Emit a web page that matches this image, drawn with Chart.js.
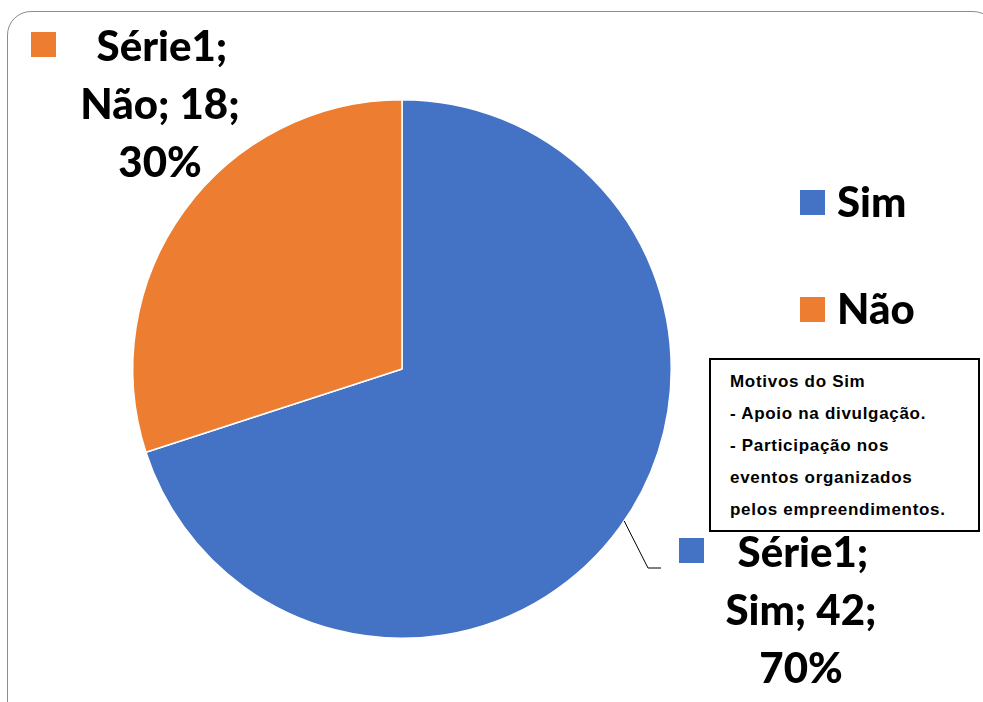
<!DOCTYPE html>
<html>
<head>
<meta charset="utf-8">
<script src="https://cdn.jsdelivr.net/npm/chart.js@4/dist/chart.umd.min.js"></script>
<style>
  html, body { margin: 0; padding: 0; background: #fff; }
  #wrap { position: relative; width: 983px; height: 702px; overflow: hidden; }
  #frame {
    position: absolute; left: 7px; top: 11px; width: 990px; height: 720px;
    border: 1.5px solid #8c8c8c; border-radius: 24px; box-sizing: border-box;
  }
  #note {
    position: absolute; left: 709px; top: 358px; width: 271px; height: 174px;
    border: 2px solid #000; box-sizing: border-box; background: #fff;
    font: bold 17px "Liberation Sans", Arial, sans-serif; color: #000;
    padding: 6px 0 0 19px; line-height: 32px; letter-spacing: 0.7px;
  }
  canvas { position: absolute; left: 0; top: 0; }
</style>
</head>
<body>
<div id="wrap">
  <div id="frame"></div>
  <canvas id="myChart" width="983" height="702"></canvas>
  <div id="note">Motivos do Sim<br>- Apoio na divulgação.<br>- Participação nos<br>eventos organizados<br>pelos empreendimentos.</div>
</div>
<script>
var categories = ['Sim', 'Não'];
var values = [42, 18];
var colors = ['#4472C4', '#ED7D31'];
var seriesName = 'Série1';

var labelFont = '900 42px Lato, "Open Sans", sans-serif';

function pct(i) {
  var total = values.reduce(function (a, b) { return a + b; }, 0);
  return Math.round(values[i] / total * 100) + '%';
}

// legend on the right + data labels with leader line
var extras = {
  id: 'extras',
  afterDraw: function (chart) {
    var c = chart.ctx;
    c.save();
    c.font = labelFont;
    c.textBaseline = 'middle';

    // legend
    var legY = [202, 309];
    categories.forEach(function (name, i) {
      c.fillStyle = colors[i];
      c.fillRect(800, legY[i] - 12, 25, 25);
      c.fillStyle = '#000';
      c.textAlign = 'left';
      c.fillText(name, 837, legY[i] + 1);
    });

    // data labels
    var spots = [
      { sq: [679, 538], cx: 801, y: 553 },
      { sq: [31, 32], cx: 160, y: 47 }
    ];
    categories.forEach(function (name, i) {
      var s = spots[i];
      c.fillStyle = colors[i];
      c.fillRect(s.sq[0], s.sq[1], 25, 25);
      c.fillStyle = '#000';
      c.textAlign = 'center';
      var lines = [seriesName + ';', name + '; ' + values[i] + ';', pct(i)];
      lines.forEach(function (t, k) {
        c.fillText(t, s.cx + (k === 0 ? 2 : 0), s.y + k * 58);
      });
    });

    // leader line from the Sim slice edge
    var arc = chart.getDatasetMeta(0).data[0];
    var x0 = arc.x + Math.cos(0.6) * arc.outerRadius;
    var y0 = arc.y + Math.sin(0.6) * arc.outerRadius;
    c.strokeStyle = '#000';
    c.lineWidth = 1;
    c.beginPath();
    c.moveTo(x0, y0);
    c.lineTo(648, 568);
    c.lineTo(661, 568);
    c.stroke();
    c.restore();
  }
};

var ctx = document.getElementById('myChart').getContext('2d');
var myChart = new Chart(ctx, {
  type: 'pie',
  data: {
    labels: categories,
    datasets: [{
      label: seriesName,
      data: values,
      backgroundColor: colors,
      borderColor: '#ffffff',
      borderWidth: 1.5
    }]
  },
  options: {
    responsive: false,
    animation: false,
    layout: { padding: { left: 132, right: 311, top: 99, bottom: 63 } },
    plugins: {
      legend: { display: false },
      tooltip: { enabled: false }
    }
  },
  plugins: [extras]
});
</script>
</body>
</html>
